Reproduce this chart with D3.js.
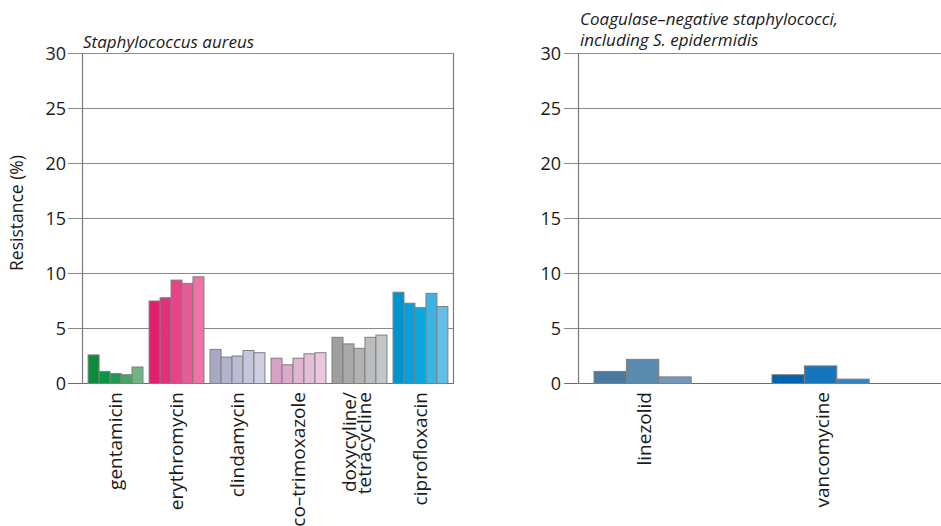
<!DOCTYPE html>
<html>
<head>
<meta charset="utf-8">
<script src="https://cdn.jsdelivr.net/npm/d3@7"></script>
<style>
  html, body { margin: 0; padding: 0; background: #fff; }
  svg { display: block; font-family: "Open Sans", "Noto Sans", sans-serif; }
</style>
</head>
<body>
<svg id="chart" width="941" height="526"></svg>
<script>
// ---- data ----
const years = ["2014", "2015", "2016", "2017", "2018"];

const saCategories = ["gentamicin", "erythromycin", "clindamycin", "co–trimoxazole", "doxycyline/\ntetracycline", "ciprofloxacin"];
const saGentamicin     = [2.6, 1.1, 0.9, 0.8, 1.5];
const saErythromycin   = [7.5, 7.8, 9.4, 9.1, 9.7];
const saClindamycin    = [3.1, 2.4, 2.5, 3.0, 2.8];
const saCoTrimoxazole  = [2.3, 1.7, 2.3, 2.7, 2.8];
const saDoxycycline    = [4.2, 3.6, 3.2, 4.2, 4.4];
const saCiprofloxacin  = [8.3, 7.3, 6.9, 8.2, 7.0];

const consCategories = ["linezolid", "vancomycine"];
const consLinezolid   = [1.1, 2.2, 0.6, 0, 0];
const consVancomycine = [0.8, 1.6, 0.4, 0, 0];

const yTicks = [0, 5, 10, 15, 20, 25, 30];

const saColors = [
  ["#0a8c3c", "#0a9446", "#1e9a52", "#44a365", "#70b586"],
  ["#e01f6f", "#e3307c", "#e64487", "#e85c96", "#ec75a6"],
  ["#a9a9c5", "#b3b3cd", "#bbbbd4", "#c5c5dc", "#cfcfe3"],
  ["#d8a1c5", "#dba9ca", "#e0b3d1", "#e4bdd8", "#e9c8df"],
  ["#9e9fa1", "#a8a9ab", "#b1b2b4", "#bbbcbe", "#c5c6c8"],
  ["#0094cf", "#0a9fd8", "#08aade", "#3ab3e5", "#66bde8"]
];
const consColors = [
  ["#4a7aa0", "#5a8aae", "#7299bb", "#8aaac6", "#a0bad0"],
  ["#0063ad", "#1576bd", "#2e86c8", "#4b97d0", "#6aa8d8"]
];

const saData = [saGentamicin, saErythromycin, saClindamycin, saCoTrimoxazole, saDoxycycline, saCiprofloxacin];
const consData = [consLinezolid, consVancomycine];

// ---- drawing ----
const svg = d3.select("#chart");
const gridColor = "#8a8a8a";
const axisColor = "#7a7a7a";
const barStroke = "#7f7f7f";

const y = d3.scaleLinear().domain([0, 30]).range([384, 54]);
const crisp = v => Math.round(y(v)) - 0.5;

function panel(opts) {
  const { left, right, tickX, labelX, cats, data, colors, title, titleX, titleYs, labelCenter } = opts;
  const g = svg.append("g");

  const x0 = d3.scaleBand().domain(cats).range([left, right])
    .paddingInner(opts.pad).paddingOuter(opts.pad);
  const x1 = d3.scaleBand().domain(years).range([0, x0.bandwidth()]);

  // gridlines
  g.selectAll("line.grid").data(yTicks).join("line")
    .attr("x1", tickX).attr("x2", right)
    .attr("y1", d => crisp(d)).attr("y2", d => crisp(d))
    .attr("stroke", d => d === 0 ? "#6e6e6e" : gridColor)
    .attr("stroke-width", 1.2);

  // tick labels
  g.selectAll("text.tick").data(yTicks).join("text")
    .attr("x", labelX).attr("y", d => crisp(d))
    .attr("dy", "0.35em")
    .attr("text-anchor", "end")
    .attr("font-size", 18).attr("fill", "#1a1a1a")
    .text(d => d);

  // axis lines
  g.append("line").attr("x1", left + 0.5).attr("x2", left + 0.5)
    .attr("y1", crisp(30)).attr("y2", crisp(0))
    .attr("stroke", axisColor).attr("stroke-width", 1.2);
  g.append("line").attr("x1", right - 0.5).attr("x2", right - 0.5)
    .attr("y1", crisp(30)).attr("y2", crisp(0))
    .attr("stroke", axisColor).attr("stroke-width", 1.2);

  // bars
  cats.forEach((c, ci) => {
    const grp = g.append("g").attr("transform", `translate(${x0(c)},0)`);
    grp.selectAll("rect").data(data[ci]).join("rect")
      .attr("x", (d, i) => x1(years[i]))
      .attr("width", x1.bandwidth())
      .attr("y", d => y(d) - 0.5)
      .attr("height", d => y(0) - y(d))
      .attr("fill", (d, i) => colors[ci][i])
      .attr("stroke", barStroke)
      .attr("stroke-width", 1);
  });

  // category labels
  cats.forEach((c, ci) => {
    const cx = labelCenter ? labelCenter(x0, x1, c, ci) : x0(c) + x0.bandwidth() / 2;
    const lines = c.split("\n");
    const t = g.append("text")
      .attr("transform", `translate(${cx},392) rotate(-90)`)
      .attr("text-anchor", "end")
      .attr("font-size", 19).attr("fill", "#1a1a1a");
    if (lines.length === 1) {
      t.append("tspan").attr("x", 0).attr("dy", "0.35em").text(lines[0]);
    } else {
      t.append("tspan").attr("x", 0).attr("y", -3).text(lines[0]);
      t.append("tspan").attr("x", 0).attr("y", 12).text(lines[1]);
    }
  });

  // title
  const tt = g.append("text").attr("font-style", "italic").attr("font-size", 17).attr("fill", "#1a1a1a");
  title.forEach((line, i) => {
    tt.append("tspan").attr("x", titleX).attr("y", titleYs[i]).text(line);
  });
}

panel({
  left: 82, right: 454, tickX: 68, labelX: 66, pad: 0.1,
  cats: saCategories, data: saData, colors: saColors,
  title: ["Staphylococcus aureus"], titleX: 83, titleYs: [48]
});

panel({
  left: 578, right: 950, tickX: 564, labelX: 561, pad: 0.09,
  cats: consCategories, data: consData, colors: consColors,
  title: ["Coagulase–negative staphylococci,", "including S. epidermidis"], titleX: 580, titleYs: [25, 46],
  labelCenter: (x0, x1, c, ci) => {
    const vals = consData[ci];
    const idx = vals.map((v, i) => v > 0 ? i : -1).filter(i => i >= 0);
    const a = x1(years[idx[0]]), b = x1(years[idx[idx.length - 1]]) + x1.bandwidth();
    return x0(c) + (a + b) / 2 + 2;
  }
});

// y axis title
svg.append("text")
  .attr("transform", "translate(23,213) rotate(-90)")
  .attr("text-anchor", "middle")
  .attr("font-size", 17.5).attr("fill", "#1a1a1a")
  .text("Resistance (%)");
</script>
</body>
</html>
